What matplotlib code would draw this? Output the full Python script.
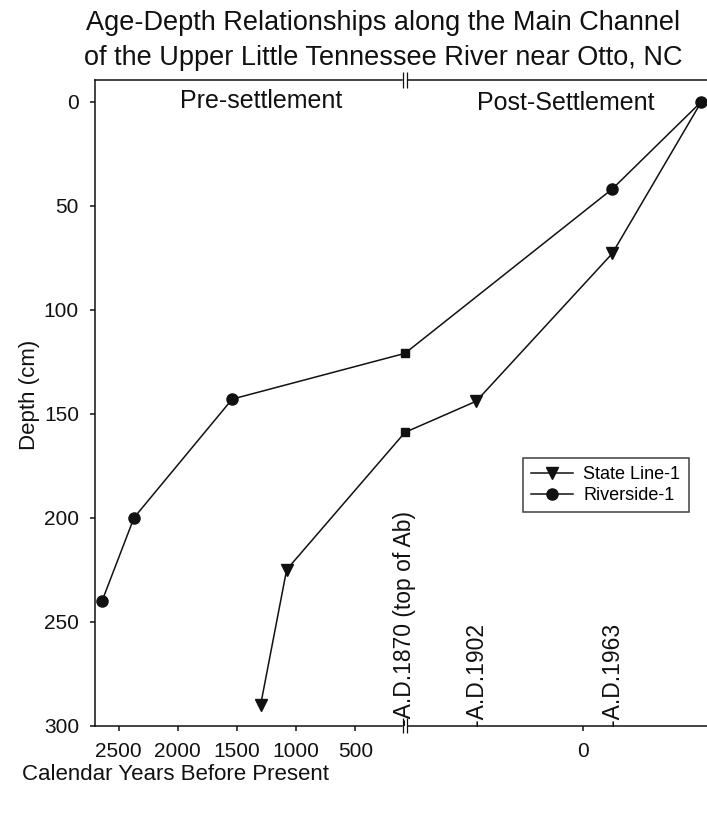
import numpy as np
import matplotlib
matplotlib.use("Agg")
import matplotlib.pyplot as plt
from matplotlib.lines import Line2D
from matplotlib.transforms import ScaledTranslation

plt.rcParams['font.family'] = ['Liberation Sans', 'DejaVu Sans']

# ---- data -------------------------------------------------------------
ref_year = 1950                      # "present" for calendar years BP
marker_dates_ad = [1870, 1902, 1963]  # dated horizons (A.D.)
marker_labels = ["-A.D.1870 (top of Ab)", "-A.D.1902", "-A.D.1963"]
bp_1870, bp_1902, bp_1963 = [ref_year - d for d in marker_dates_ad]

# Riverside-1 core: age (cal. yr BP) and depth (cm)
riverside_age = [-53, bp_1963, bp_1870, 1540, 2370, 2640]
riverside_depth = [0, 42, 121, 143, 200, 240]

# State Line-1 core
stateline_age = [-53, bp_1963, bp_1902, bp_1870, 1080, 1300]
stateline_depth = [0, 73, 144, 159, 225, 290]

x_ticks = [2500, 2000, 1500, 1000, 500, 0]
y_ticks = [0, 50, 100, 150, 200, 250, 300]

# ---- broken time axis: stretched post-settlement, compressed pre-settlement
BREAK = bp_1870
K_POST = 2.229
K_PRE = 0.1183


def fwd(t):
    t = np.asarray(t, dtype=float)
    return np.where(t <= BREAK, t * K_POST, BREAK * K_POST + (t - BREAK) * K_PRE)


def inv(u):
    u = np.asarray(u, dtype=float)
    ub = BREAK * K_POST
    return np.where(u <= ub, u / K_POST, BREAK + (u - ub) / K_PRE)


fig = plt.figure(figsize=(7.07, 8.16), dpi=100)
W, H = 707, 816
ax = fig.add_axes([95 / W, 1 - 725.7 / H, (707 - 95) / W, (725.7 - 80) / H])
ax.set_xscale('function', functions=(fwd, inv))
ax.set_xlim(2700, -55.5)
ax.set_ylim(300, -10.4)

lw = 1.1
col = '#111111'

# lines
ax.plot(stateline_age, stateline_depth, color=col, lw=lw, zorder=3, clip_on=False)
ax.plot(riverside_age, riverside_depth, color=col, lw=lw, zorder=3, clip_on=False)

# State Line-1 markers (triangles, square at 1870; the surface point sits
# under the Riverside-1 surface circle)
sl_tri = [i for i, (a, d) in enumerate(zip(stateline_age, stateline_depth))
          if a != bp_1870 and d > 0]
sl_sq = [i for i, a in enumerate(stateline_age) if a == bp_1870]
ax.plot([stateline_age[i] for i in sl_tri], [stateline_depth[i] for i in sl_tri],
        ls='none', marker='v', ms=8, color=col, zorder=4, clip_on=False)
ax.plot([stateline_age[i] for i in sl_sq], [stateline_depth[i] for i in sl_sq],
        ls='none', marker='s', ms=6, color=col, zorder=4, clip_on=False)

# Riverside-1 markers (circles, square at 1870)
rv_c = [i for i, a in enumerate(riverside_age) if a != bp_1870]
rv_sq = [i for i, a in enumerate(riverside_age) if a == bp_1870]
ax.plot([riverside_age[i] for i in rv_c], [riverside_depth[i] for i in rv_c],
        ls='none', marker='o', ms=8, color=col, zorder=5, clip_on=False)
ax.plot([riverside_age[i] for i in rv_sq], [riverside_depth[i] for i in rv_sq],
        ls='none', marker='s', ms=6, color=col, zorder=5, clip_on=False)

# axes styling
for s in ['left', 'top', 'bottom']:
    ax.spines[s].set_linewidth(lw)
    ax.spines[s].set_color(col)
ax.spines['right'].set_visible(False)
ax.set_xticks(x_ticks)
ax.set_xticklabels([str(v) for v in x_ticks])
ax.set_yticks(y_ticks)
ax.set_yticklabels([str(v) for v in y_ticks])
ax.xaxis.set_minor_locator(matplotlib.ticker.NullLocator())
ax.tick_params(axis='both', direction='out', length=3.6, width=lw, color=col,
               labelsize=15, pad=8, labelcolor=col)
ax.tick_params(axis='x', top=False)
ax.tick_params(axis='y', right=False)

# axis break marks on the top and bottom spines
xt = ax.get_xaxis_transform()
for yb in (0.0, 1.0):
    ax.plot([BREAK, BREAK], [yb - 0.008, yb + 0.008], color='white', lw=3.2,
            transform=xt, clip_on=False, zorder=6, solid_capstyle='butt')
    for dx in (-2.4, 2.4):
        tr = xt + ScaledTranslation(dx / 100, 0, fig.dpi_scale_trans)
        ax.plot([BREAK, BREAK], [yb - 0.012, yb + 0.012], color=col, lw=0.9,
                transform=tr, clip_on=False, zorder=7, solid_capstyle='butt')

# dated horizon labels along the bottom axis
for d, lab in zip(marker_dates_ad, marker_labels):
    ax.text(ref_year - d, 300, lab, rotation=90, ha='center', va='bottom',
            fontsize=16.5, color=col, zorder=8)

# period labels
ax.text((261 - 95) / 612, 1 - 21 / 645.7, 'Pre-settlement', transform=ax.transAxes,
        ha='center', va='center', fontsize=18, color=col)
ax.text((566 - 95) / 612, 1 - 23 / 645.7, 'Post-Settlement', transform=ax.transAxes,
        ha='center', va='center', fontsize=18, color=col)

# legend
handles = [
    Line2D([], [], color=col, lw=lw, marker='v', ms=8, label='State Line-1'),
    Line2D([], [], color=col, lw=lw, marker='o', ms=8, label='Riverside-1'),
]
leg = fig.legend(handles=handles, loc='lower left',
                 bbox_to_anchor=(523 / W, 1 - 512 / H), borderaxespad=0,
                 fontsize=13, frameon=True, fancybox=False, handlelength=2.3,
                 handletextpad=0.6, labelspacing=0.2, borderpad=0.45)
leg.get_frame().set_edgecolor(col)
leg.get_frame().set_linewidth(lw)

# titles and axis labels
fig.text(383 / W, 1 - 23 / H, 'Age-Depth Relationships along the Main Channel',
         ha='center', va='center', fontsize=19.5, color=col)
fig.text(383 / W, 1 - 58 / H, 'of the Upper Little Tennessee River near Otto, NC',
         ha='center', va='center', fontsize=19.5, color=col)
fig.text(176 / W, 1 - 775 / H, 'Calendar Years Before Present',
         ha='center', va='center', fontsize=16, color=col)
fig.text(29 / W, 1 - 395 / H, 'Depth (cm)', rotation=90,
         ha='center', va='center', fontsize=16, color=col)

fig.savefig('out.png', dpi=100)
